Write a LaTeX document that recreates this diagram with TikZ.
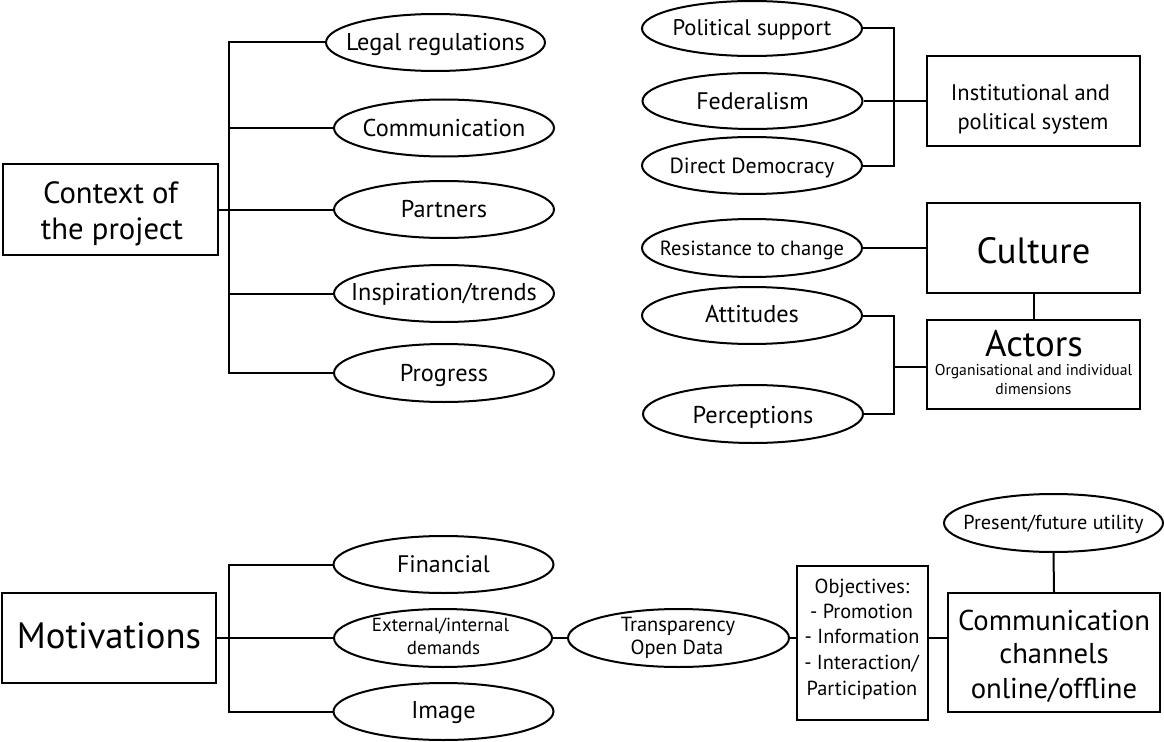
\documentclass[tikz,border=0pt]{standalone}
\usepackage{fontspec}
\setmainfont{PT Sans}
\usetikzlibrary{shapes.geometric}
\newcommand{\fs}[2]{\fontsize{#1}{#2}\selectfont}
\begin{document}
\begin{tikzpicture}[x=1bp,y=-1bp,line width=2bp,
  ov/.style={draw,ellipse,inner xsep=-40pt,inner ysep=-15pt,
    minimum width=220bp,minimum height=57bp,align=center,font=\fs{24.4}{28}},
  one/.style={text height=#1,text depth=0pt},
  one/.default=17pt,
  bx/.style={draw,rectangle,inner sep=0pt,align=center},
  txt/.style={anchor=base,inner sep=0pt}]
\useasboundingbox (0,0) rectangle (1164,742);

% ---- context of the project ----
\node[bx,minimum width=215bp,minimum height=91bp] (ctx) at (110.5,209.5) {};
\node[txt,font=\fs{30.8}{36}] (ctxl1) at (110.5,203) {Context of};
\node[txt,font=\fs{30.8}{36}] (ctxl2) at (112,239) {the project};
\node[ov,one,minimum width=219bp] (legal) at (435.5,42.5) {Legal regulations};
\node[ov,one] (comm) at (444,128) {Communication};
\node[ov,one] (partners) at (444,209.5) {Partners};
\node[ov,one=15pt] (insp) at (444,293.5) {Inspiration/trends};
\node[ov,one,minimum height=58bp] (prog) at (444,373) {Progress};
\coordinate (ctxbus) at (229,209.5);
\draw (legal.west) -| (ctxbus) |- (prog.west);
\draw (ctx.east) -- (partners.west);
\draw (comm.west) -- (comm.west -| ctxbus);
\draw (insp.west) -- (insp.west -| ctxbus);

% ---- institutional and political system ----
\node[ov,one=15pt,minimum height=55bp,font=\fs{22.7}{26}] (pol) at (752,28.5) {Political support};
\node[ov,one,minimum height=56bp,font=\fs{24}{28}] (fed) at (752.5,101) {Federalism};
\node[ov,one=15.4pt,font=\fs{22}{26}] (dd) at (752,165.5) {Direct Democracy};
\node[bx,minimum width=213bp,minimum height=90bp] (inst) at (1033.5,101) {};
\node[txt,font=\fs{22.6}{28}] (instl1) at (1030.5,101) {Institutional and};
\node[txt,font=\fs{22.6}{28}] (instl2) at (1033,129) {political system};
\coordinate (polbus) at (894,100.5);
\draw (pol.east) -| (polbus) |- (dd.east);
\draw (fed.east) -- (inst.west);

% ---- culture and actors ----
\node[ov,one=15pt,minimum height=58bp,font=\fs{20.6}{24}] (res) at (752,248) {Resistance to change};
\node[bx,minimum width=213bp,minimum height=90bp,font=\fs{36.7}{40},text height=32pt,text depth=0pt] (cult) at (1033.5,248) {Culture};
\draw (res.east) -- (cult.west);
\node[bx,minimum width=213bp,minimum height=89bp] (act) at (1033.5,364.5) {};
\node[txt,font=\fs{37}{40}] (acttitle) at (1034,356) {Actors};
\node[txt,font=\fs{15.7}{18}] (actsub1) at (1033.5,375) {Organisational and individual};
\node[txt,font=\fs{15.7}{18}] (actsub2) at (1033.5,394) {dimensions};
\draw (cult.south) -- (act.north);
\node[ov,one=14pt] (att) at (752,315.5) {Attitudes};
\node[ov,one=19pt,minimum height=58bp] (perc) at (753,414) {Perceptions};
\coordinate (actbus) at (894,367);
\draw (att.east) -| (actbus) |- (perc.east);
\draw (actbus) -- (actbus -| act.west);

% ---- motivations and communication ----
\node[bx,minimum width=214bp,minimum height=90bp,font=\fs{36.8}{40},text height=22pt,text depth=0pt] (mot) at (109,638) {Motivations};
\node[ov,one,font=\fs{24}{28}] (fin) at (443.5,564.5) {Financial};
\node[ov,minimum width=218bp,minimum height=58bp] (ext) at (443,638) {};
\node[txt,font=\fs{19}{23}] (extl1) at (440.5,631) {External/internal};
\node[txt,font=\fs{19}{23}] (extl2) at (443.5,654) {demands};
\node[ov,one=15pt] (img) at (443.5,711.5) {Image};
\coordinate (motbus) at (229,638);
\draw (fin.west) -| (motbus) |- (img.west);
\draw (mot.east) -- (ext.west);
\node[ov,minimum width=221bp,minimum height=58bp] (tr) at (678.5,638) {};
\node[txt,font=\fs{20.5}{23}] (trl1) at (678,631) {Transparency};
\node[txt,font=\fs{20.5}{23}] (trl2) at (677,654) {Open Data};
\draw (ext.east) -- (tr.west);
\node[bx,minimum width=131bp,minimum height=154bp] (obj) at (862.5,643) {};
\node[txt,font=\fs{20.4}{25}] (objl1) at (862,593) {Objectives:};
\node[txt,font=\fs{20.4}{25}] (objl2) at (861.5,618) {- Promotion};
\node[txt,font=\fs{20.4}{25}] (objl3) at (862,643) {- Information};
\node[txt,font=\fs{20.4}{25}] (objl4) at (861.5,669) {- Interaction/};
\node[txt,font=\fs{20.4}{25}] (objl5) at (862,695) {Participation};
\draw (tr.east) -- (tr.east -| obj.west);
\node[bx,minimum width=212bp,minimum height=119bp] (chan) at (1054,652.5) {};
\node[txt,font=\fs{28.8}{34}] (chanl1) at (1054,630) {Communication};
\node[txt,font=\fs{28.8}{34}] (chanl2) at (1054,663) {channels};
\node[txt,font=\fs{28.8}{34}] (chanl3) at (1054,698) {online/offline};
\draw (tr.east -| obj.east) -- (tr.east -| chan.west);
\node[ov,one=14pt,minimum width=219bp,minimum height=58bp,font=\fs{20.3}{24}] (util) at (1053.5,523) {Present/future utility};
\draw (util.south) -- (chan.north);
\end{tikzpicture}
\end{document}
